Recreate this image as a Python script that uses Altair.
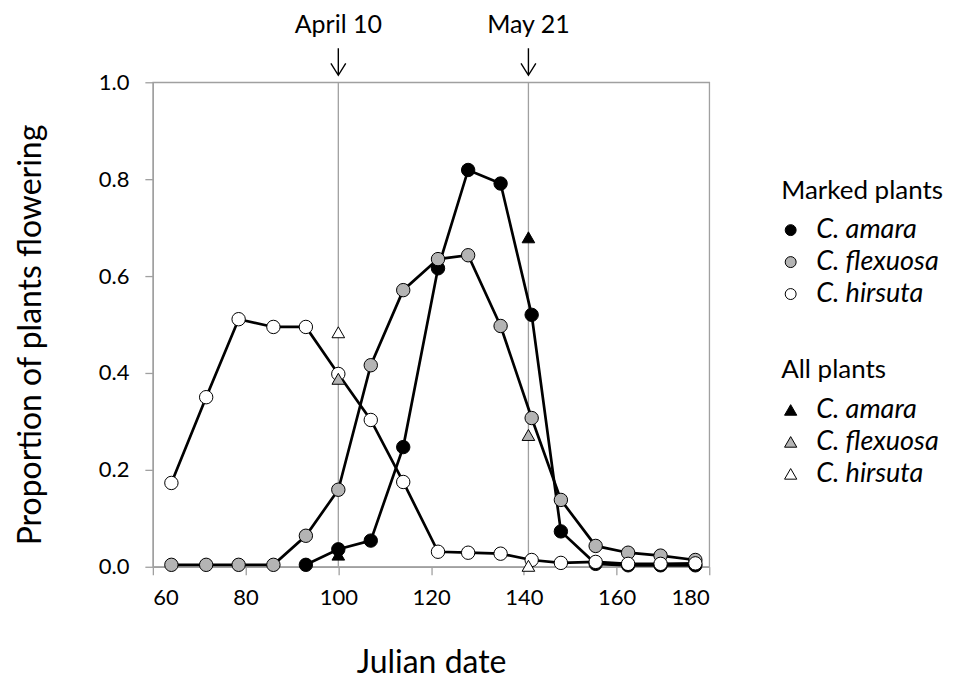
import altair as alt
import pandas as pd

species = ["C. amara", "C. flexuosa", "C. hirsuta"]
fills = ["#000000", "#b4b4b4", "#ffffff"]

# Marked plants (circles)
dates_marked = [64, 71.5, 78.5, 86, 93, 100, 107, 114, 121.5, 128, 135, 141.7, 148, 155.5, 162.5, 169.5, 177]
amara_start = 4
amara_marked = [0.004, 0.036, 0.054, 0.247, 0.616, 0.819, 0.791, 0.52, 0.073, 0.006, 0.003, 0.003, 0.003]
flexuosa_marked = [0.004, 0.004, 0.004, 0.004, 0.064, 0.159, 0.416, 0.571, 0.635, 0.643, 0.497, 0.307, 0.138, 0.043, 0.029, 0.023, 0.014]
hirsuta_marked = [0.173, 0.35, 0.511, 0.495, 0.495, 0.398, 0.303, 0.175, 0.031, 0.029, 0.027, 0.014, 0.008, 0.010, 0.006, 0.006, 0.007]

# All plants (triangles)
dates_all = [100, 141]
amara_all = [0.025, 0.68]
flexuosa_all = [0.388, 0.272]
hirsuta_all = [0.484, 0.002]

# Annotations
ann_dates = [100, 141]
ann_labels = ["April 10", "May 21"]

x_ticks = [60, 80, 100, 120, 140, 160, 180]
y_ticks = [0.0, 0.2, 0.4, 0.6, 0.8, 1.0]

rows = []
for d, v in zip(dates_marked[amara_start:], amara_marked):
    rows.append({"species": "C. amara", "date": d, "value": v})
for d, v in zip(dates_marked, flexuosa_marked):
    rows.append({"species": "C. flexuosa", "date": d, "value": v})
for d, v in zip(dates_marked, hirsuta_marked):
    rows.append({"species": "C. hirsuta", "date": d, "value": v})
df = pd.DataFrame(rows)

rows_all = []
for name, vals in zip(species, [amara_all, flexuosa_all, hirsuta_all]):
    for d, v in zip(dates_all, vals):
        rows_all.append({"species": name, "date": d, "value": v})
df_all = pd.DataFrame(rows_all)

ann = pd.DataFrame({"date": ann_dates, "label": ann_labels})

FONT = "Lato"
GRAY = "#a0a0a0"
ARROW = "M0,-1L0,1M-0.55,0.12L0,1L0.55,0.12"

xscale = alt.Scale(domain=[60, 180], nice=False, zero=False)
x = alt.X("date:Q", scale=xscale,
          axis=alt.Axis(values=x_ticks, title="Julian date", labelPadding=13,
                        titleX=278.5, titleY=106, titleBaseline="alphabetic", titleAlign="center"))
y = alt.Y("value:Q", scale=alt.Scale(domain=[0, 1], nice=False),
          axis=alt.Axis(values=y_ticks, format=".1f", title="Proportion of plants flowering",
                        labelPadding=16, titleX=-122, titleY=252.5, titleAngle=270,
                        titleBaseline="middle", titleAlign="center"))

rules = alt.Chart(ann).mark_rule(color=GRAY, strokeWidth=1.3).encode(x=x)

ann_text = alt.Chart(ann).mark_text(fontSize=25, font=FONT, color="black", baseline="alphabetic").encode(
    x=alt.X("date:Q", scale=xscale), y=alt.value(-49), text="label:N")
arrows = alt.Chart(ann).mark_point(shape=ARROW, size=729, filled=False, stroke="black",
                                   strokeWidth=1.4, opacity=1).encode(
    x=alt.X("date:Q", scale=xscale), y=alt.value(-20.5))

lines = alt.Chart(df).mark_line(color="black", strokeWidth=2.7).encode(
    x=x, y=y, detail="species:N", order="date:Q")

circles = alt.Chart(df).mark_point(filled=True, size=180, stroke="black", strokeWidth=1, opacity=1).encode(
    x=x, y=y,
    fill=alt.Fill("species:N", scale=alt.Scale(domain=species, range=fills),
                  legend=alt.Legend(title="Marked plants", orient="none", legendX=629, legendY=95.5,
                                    symbolType="circle", symbolSize=120)))

triangles = alt.Chart(df_all).mark_point(shape="triangle-up", filled=True, size=160, stroke="black",
                                         strokeWidth=1, opacity=1).encode(
    x=x, y=y,
    fill=alt.Fill("species:N", scale=alt.Scale(domain=species, range=fills),
                  legend=alt.Legend(title="All plants", orient="none", legendX=629, legendY=275.5,
                                    symbolType="triangle-up", symbolSize=150)))

chart = alt.layer(rules, lines, circles, triangles, ann_text, arrows).resolve_scale(
    fill="independent"
).properties(
    width=557, height=485,
    autosize=alt.AutoSizeParams(type="none"),
    padding={"left": 145, "top": 74, "right": 240, "bottom": 114},
).configure_view(
    stroke=GRAY, strokeWidth=1.3
).configure_axis(
    grid=False, domainColor=GRAY, domainWidth=1.3, tickColor=GRAY, tickWidth=1.3, tickSize=8,
    labelFont=FONT, labelFontSize=22, labelColor="black",
    titleFont=FONT, titleFontSize=32, titleFontWeight="normal", titleColor="black",
).configure_legend(
    titleFont=FONT, titleFontSize=26, titleFontWeight="normal", titleColor="black",
    labelFont=FONT, labelFontSize=27, labelFontStyle="italic", labelColor="black",
    symbolStrokeColor="black", symbolStrokeWidth=1, rowPadding=4, titlePadding=13,
    symbolOffset=-4, labelOffset=12, padding=0,
)

chart.save("out.html", embed_options={"renderer": "svg", "actions": False})
